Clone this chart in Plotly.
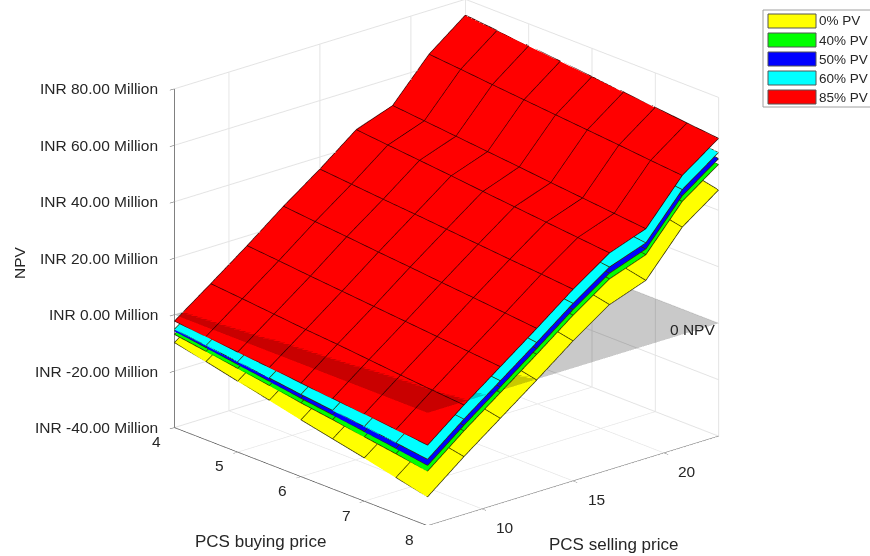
import plotly.graph_objects as go

buying_price = [4, 4.5, 5, 5.5, 6, 6.5, 7, 7.5, 8]
selling_price = [7, 9, 11, 13, 15, 17, 19, 21, 23]
legend_names = ["0% PV", "40% PV", "50% PV", "60% PV", "85% PV"]
colors = ["#ffff00", "#00ff00", "#0000ff", "#00ffff", "#ff0000"]
x_tick_vals = [4, 5, 6, 7, 8]
y_tick_vals = [10, 15, 20]
z_tick_vals = [-40, -20, 0, 20, 40, 60, 80]
z_tick_text = ["INR -40.00 Million", "INR -20.00 Million", "INR 0.00 Million", "INR 20.00 Million",
               "INR 40.00 Million", "INR 60.00 Million", "INR 80.00 Million"]

npv_85 = [
    [-2.4, -3.5, -4.7, -5.8, -7, -8.1, -9.2, -10.4, -11.6],
    [6.9, 5.9, 4.8, 3.7, 2.8, 1.7, 0.6, -0.4, -1.3],
    [16.4, 15.4, 14.3, 13.3, 12.3, 11.3, 10.3, 9.3, 8.3],
    [26.4, 25.3, 24.3, 23.2, 22.2, 21.1, 20.1, 19, 17.9],
    [35.6, 34.6, 33.6, 32.7, 31.7, 30.7, 29.7, 28.8, 27.8],
    [45.6, 44.5, 43.4, 42.3, 41.1, 40, 38.9, 37.8, 36.7],
    [50.2, 49.1, 48, 46.9, 45.8, 44.6, 43.5, 42.4, 41.3],
    [64.4, 63.4, 62.3, 61.3, 60.3, 59.3, 58.3, 57.2, 56.2],
    [74.3, 73.2, 72.1, 71, 69.9, 68.8, 67.7, 66.5, 65.4],
]
npv_60 = [
    [-5.3, -6.7, -8.1, -9.5, -11, -12.3, -13.7, -15.1, -16.6],
    [4, 2.7, 1.4, 0, -1.2, -2.5, -3.9, -5.1, -6.3],
    [13.5, 12.2, 10.9, 9.6, 8.3, 7.1, 5.8, 4.6, 3.3],
    [23.5, 22.1, 20.9, 19.5, 18.2, 16.9, 15.6, 14.3, 12.9],
    [32.7, 31.4, 30.2, 29, 27.7, 26.5, 25.2, 24.1, 22.8],
    [42.7, 41.3, 40, 38.6, 37.1, 35.8, 34.4, 33.1, 31.7],
    [47.3, 45.9, 44.6, 43.2, 41.8, 40.4, 39, 37.7, 36.3],
    [61.5, 60.2, 58.9, 57.6, 56.3, 55.1, 53.8, 52.5, 51.2],
    [71.4, 70, 68.7, 67.3, 65.9, 64.6, 63.2, 61.8, 60.4],
]
npv_50 = [
    [-5.9, -7.5, -9.1, -10.7, -12.4, -13.9, -15.5, -17.1, -18.8],
    [3.4, 1.9, 0.4, -1.2, -2.6, -4.1, -5.7, -7.1, -8.5],
    [12.9, 11.4, 9.9, 8.4, 6.9, 5.5, 4, 2.6, 1.1],
    [22.9, 21.3, 19.9, 18.3, 16.8, 15.3, 13.8, 12.3, 10.7],
    [32.1, 30.6, 29.2, 27.8, 26.3, 24.9, 23.4, 22.1, 20.6],
    [42.1, 40.5, 39, 37.4, 35.7, 34.2, 32.6, 31.1, 29.5],
    [46.7, 45.1, 43.6, 42, 40.4, 38.8, 37.2, 35.7, 34.1],
    [60.9, 59.4, 57.9, 56.4, 54.9, 53.5, 52, 50.5, 49],
    [70.8, 69.2, 67.7, 66.1, 64.5, 63, 61.4, 59.8, 58.2],
]
npv_40 = [
    [-7.1, -8.8, -10.5, -12.2, -14, -15.6, -17.3, -19, -20.8],
    [2.2, 0.6, -1, -2.7, -4.2, -5.8, -7.5, -9, -10.5],
    [11.7, 10.1, 8.5, 6.9, 5.3, 3.8, 2.2, 0.7, -0.9],
    [21.7, 20, 18.5, 16.8, 15.2, 13.6, 12, 10.4, 8.7],
    [30.9, 29.3, 27.8, 26.3, 24.7, 23.2, 21.6, 20.2, 18.6],
    [40.9, 39.2, 37.6, 35.9, 34.1, 32.5, 30.8, 29.2, 27.5],
    [45.5, 43.8, 42.2, 40.5, 38.8, 37.1, 35.4, 33.8, 32.1],
    [59.7, 58.1, 56.5, 54.9, 53.3, 51.8, 50.2, 48.6, 47],
    [69.6, 67.9, 66.3, 64.6, 62.9, 61.3, 59.6, 57.9, 56.2],
]
npv_0 = [
    [-10, -12.4, -15, -17.4, -20, -22.4, -24.8, -27.4, -29.9],
    [-0.7, -3, -5.5, -7.9, -10.2, -12.6, -15, -17.4, -19.6],
    [8.8, 6.5, 4, 1.7, -0.7, -3, -5.3, -7.7, -10],
    [18.8, 16.4, 14, 11.6, 9.2, 6.8, 4.5, 2, -0.4],
    [28, 25.7, 23.3, 21.1, 18.7, 16.4, 14.1, 11.8, 9.5],
    [38, 35.6, 33.1, 30.7, 28.1, 25.7, 23.3, 20.8, 18.4],
    [42.6, 40.2, 37.7, 35.3, 32.8, 30.3, 27.9, 25.4, 23],
    [56.8, 54.5, 52, 49.7, 47.3, 45, 42.7, 40.2, 37.9],
    [66.7, 64.3, 61.8, 59.4, 56.9, 54.5, 52.1, 49.5, 47.1],
]
zero_plane = [[0, 0], [0, 0]]
plane_x = [4, 8]
plane_y = [7, 23]

TEXT = "#262626"
FONT = "Liberation Sans"
LIFT = 0.12
R = 2

fig = go.Figure()
for name, color, z in zip(legend_names, colors, [npv_0, npv_40, npv_50, npv_60, npv_85]):
    fig.add_trace(go.Surface(
        x=buying_price, y=selling_price, z=z, name=name,
        colorscale=[[0, color], [1, color]], showscale=False, showlegend=False,
        lighting=dict(ambient=1, diffuse=0, specular=0, roughness=1, fresnel=0),
        hoverinfo="skip",
    ))
    lx, ly, lz = [], [], []
    for i, s in enumerate(selling_price):
        for j, b in enumerate(buying_price):
            lx.append(b); ly.append(s); lz.append(z[i][j] + LIFT)
        lx.append(None); ly.append(None); lz.append(None)
    for j, b in enumerate(buying_price):
        for i, s in enumerate(selling_price):
            lx.append(b); ly.append(s); lz.append(z[i][j] + LIFT)
        lx.append(None); ly.append(None); lz.append(None)
    fig.add_trace(go.Scatter3d(x=lx, y=ly, z=lz, mode="lines", showlegend=False, hoverinfo="skip",
                               line=dict(color="#3a0000" if color == "#ff0000" else "#333300", width=1.5)))
fig.add_trace(go.Surface(
    x=plane_x, y=plane_y, z=zero_plane, colorscale=[[0, "#000000"], [1, "#000000"]],
    showscale=False, opacity=0.21, showlegend=False, hoverinfo="skip",
    lighting=dict(ambient=1, diffuse=0, specular=0, roughness=1, fresnel=0),
))

def axis(**kw):
    return dict(
        showbackground=False, gridcolor="#e3e3e3", showline=True, linecolor="#555555", linewidth=1.5,
        ticks="outside", ticklen=6, tickcolor="#555555", zeroline=False, showspikes=False,
        showticklabels=False, title=dict(text=""), **kw)

def px(x):
    return x / 870
def py(y):
    return 1 - y / 556

shapes = [dict(type="rect", xref="paper", yref="paper", x0=px(763), x1=px(871), y0=py(107), y1=py(10),
               line=dict(color="#a0a0a0", width=1), fillcolor="white")]
legend_ann = []
swatch_tops = [14, 33, 52, 71, 90]
for name, color, top in zip(legend_names, colors, swatch_tops):
    shapes.append(dict(type="rect", xref="paper", yref="paper", x0=px(768), x1=px(816), y0=py(top + 14), y1=py(top),
                       line=dict(color="#555555", width=1), fillcolor=color))
    legend_ann.append(dict(x=px(817), y=py(top + 7), xref="paper", yref="paper", xanchor="left", yanchor="middle",
                           text=name, showarrow=False, font=dict(family=FONT, size=13.5, color=TEXT)))

tick_font = dict(family=FONT, size=15.5, color=TEXT)
scene_ann = [dict(x=8, y=22.0, z=0, text="0 NPV", showarrow=False, xshift=-8, yshift=-1, font=tick_font)]
for v, t in zip(z_tick_vals, z_tick_text):
    scene_ann.append(dict(x=4, y=7, z=v, text=t, showarrow=False, xanchor="right", yanchor="middle",
                          xshift=-14, yshift=0, font=tick_font))
for v in x_tick_vals:
    scene_ann.append(dict(x=v, y=7, z=-40, text=str(v), showarrow=False, xanchor="center", yanchor="middle",
                          xshift=-18, yshift=-14, font=tick_font))
for v in y_tick_vals:
    scene_ann.append(dict(x=8, y=v, z=-40, text=str(v), showarrow=False, xanchor="center", yanchor="middle",
                          xshift=23, yshift=-19, font=tick_font))

title_font = dict(family=FONT, size=17, color=TEXT)
fig.update_layout(
    width=870, height=556, margin=dict(l=0, r=0, t=0, b=0, autoexpand=False),
    paper_bgcolor="white", showlegend=False,
    font=dict(family=FONT, color=TEXT),
    shapes=shapes,
    scene=dict(
        domain=dict(x=[0.0264, 1], y=[0.056, 1]),
        aspectmode="manual", aspectratio=dict(x=1.45, y=1.485, z=1.375),
        camera=dict(projection=dict(type="orthographic"), up=dict(x=0, y=0, z=1),
                    center=dict(x=0, y=0, z=0),
                    eye=dict(x=0.7007 * R, y=-0.6243 * R, z=0.3453 * R)),
        xaxis=axis(range=[4, 8], tickvals=x_tick_vals),
        yaxis=axis(range=[7, 23], tickvals=y_tick_vals),
        zaxis=axis(range=[-40, 80], tickvals=z_tick_vals),
        annotations=scene_ann,
    ),
    annotations=legend_ann + [
        dict(x=px(260), y=py(541), xref="paper", yref="paper", xanchor="center", yanchor="middle",
             text="PCS buying price", showarrow=False, font=title_font),
        dict(x=px(613), y=py(544), xref="paper", yref="paper", xanchor="center", yanchor="middle",
             text="PCS selling price", showarrow=False, font=title_font),
        dict(x=px(20), y=py(263), xref="paper", yref="paper", xanchor="center", yanchor="middle",
             text="NPV", showarrow=False, textangle=-90, font=tick_font),
    ],
)
fig.write_html("out.html", config=dict(displayModeBar=False), post_script="document.body.style.margin='0';")
